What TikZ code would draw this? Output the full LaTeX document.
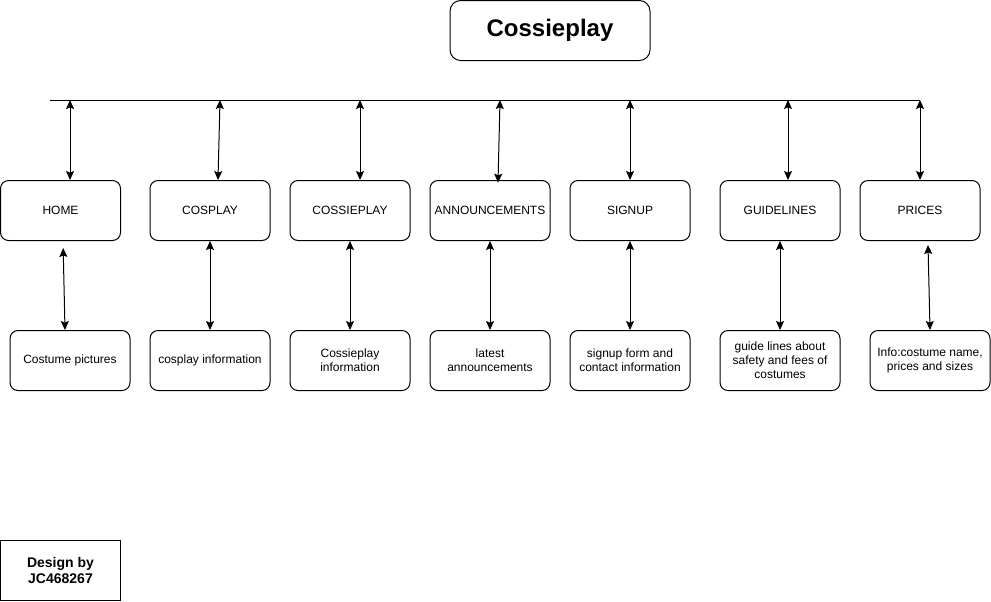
\documentclass[tikz,border=0pt]{standalone}
\usepackage{fontspec}
\setmainfont{Liberation Sans}
\usetikzlibrary{arrows.meta}

\tikzset{
    page/.style = {draw, rounded corners = 6pt, line width = .75pt,
        minimum width = 90pt, minimum height = 45pt, inner sep = 1pt,
        align = center, font = \fontsize{9}{10.5}\selectfont},
    sitename/.style = {page, rounded corners = 8pt, minimum width = 150pt,
        font = \fontsize{18}{21}\selectfont\bfseries},
    credit/.style = {draw, line width = .75pt, minimum width = 90pt,
        minimum height = 45pt, align = center,
        font = \fontsize{10.5}{12.6}\selectfont\bfseries},
    link/.style = {{Stealth[length = 6.75pt, width = 6pt, inset = 1.2pt]}-%
        {Stealth[length = 6.75pt, width = 6pt, inset = 1.2pt]}, line width = .75pt},
}

\begin{document}
\begin{tikzpicture}[x = .75pt, y = -.75pt]
    \useasboundingbox (0, 0) rectangle (991, 601);

    %% site name and menu bar
    \node[sitename] (site) at (550, 30.5) {Cossieplay};
    \coordinate (barL) at (50, 100);
    \coordinate (barR) at (920, 100);
    \draw[line width = .75pt] (barL) -- (barR);

    %% menu pages
    \node[page] (home)    at (60.5, 210.5) {HOME};
    \node[page] (cosplay) at (210, 210.5) {COSPLAY};
    \node[page] (cossie)  at (350, 210.5) {COSSIEPLAY};
    \node[page] (news)    at (490, 210.5) {ANNOUNCEMENTS};
    \node[page] (signup)  at (630, 210.5) {SIGNUP};
    \node[page] (guide)   at (780, 210.5) {GUIDELINES};
    \node[page] (prices)  at (920, 210.5) {PRICES};

    %% page contents
    \node[page] (homeInfo)    at (70, 360.5)  {Costume pictures};
    \node[page] (cosplayInfo) at (210, 360.5) {cosplay information};
    \node[page] (cossieInfo)  at (350, 360.5) {Cossieplay\\information};
    \node[page] (newsInfo)    at (490, 360.5) {latest\\announcements};
    \node[page] (signupInfo)  at (630, 360.5) {signup form and\\contact information};
    \node[page] (guideInfo)   at (780, 360.5) {guide lines about\\safety and fees of\\costumes};
    \node[page] (pricesInfo)  at (930, 360.5) {Info:costume name,\\prices and sizes};

    %% credit
    \node[credit] (design) at (60.5, 570.5) {Design by\\JC468267};

    %% bar to pages
    \coordinate (tHome)    at (70, 100);
    \coordinate (tCosplay) at (220, 100);
    \coordinate (tCossie)  at (360, 100);
    \coordinate (tNews)    at (500, 100);
    \coordinate (tSignup)  at (630, 100);
    \coordinate (tGuide)   at (788, 100);
    \coordinate (tPrices)  at (920, 100);
    \draw[link] (tHome)    -- ([xshift = 7.125pt]home.north);
    \draw[link] (tCosplay) -- ([xshift = 6pt]cosplay.north);
    \draw[link] (tCossie)  -- ([xshift = 7.5pt]cossie.north);
    \draw[link] (tNews)    -- ([xshift = 6pt, yshift = -2pt]news.north);
    \draw[link] (tSignup)  -- (signup.north);
    \draw[link] (tGuide)   -- ([xshift = 6pt]guide.north);
    \draw[link] (tPrices)  -- (prices.north);

    %% pages to contents
    \draw[link] ([xshift = 2pt, yshift = -5.25pt]home.south)
        -- ([xshift = -3.75pt]homeInfo.north);
    \draw[link] (cosplay.south) -- (cosplayInfo.north);
    \draw[link] (cossie.south)  -- (cossieInfo.north);
    \draw[link] (news.south)    -- (newsInfo.north);
    \draw[link] (signup.south)  -- (signupInfo.north);
    \draw[link] (guide.south)   -- (guideInfo.north);
    \draw[link] ([xshift = 6pt, yshift = -3pt]prices.south)
        -- (pricesInfo.north);
\end{tikzpicture}
\end{document}
